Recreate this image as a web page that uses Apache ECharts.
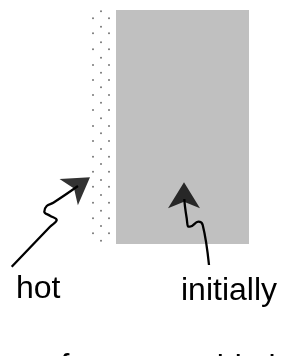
<!DOCTYPE html>
<html>
<head>
<meta charset="utf-8">
<script src="https://cdn.jsdelivr.net/npm/echarts@6/dist/echarts.min.js"></script>
<style>
html, body { margin: 0; padding: 0; background: #fff; }
#diagram { width: 282px; height: 356px; }
</style>
</head>
<body>
<div id="diagram"></div>
<script>
// the block that starts out cold: [x0, y0, x1, y1]
var coldBlock = [[116, 10, 249, 244]];

// dotted hot surface, three columns of dots
var dotMidX = [101];
var dotMidY = [11.3, 26.7, 42.3, 57.7, 72.7, 87.3, 102.7, 118.3, 133.3, 149, 164, 180, 195, 210.7, 226, 240.7];
var dotSideX = [93, 109];
var dotSideY = [18.3, 33.3, 49.3, 65, 80, 95, 110, 126, 141, 156.7, 171.7, 186.7, 202.7, 218.3, 233.3];

// squiggly pointer lines
var hotArrow = [[11.7, 266.7], [50, 226.7], [56.7, 220], [50, 215.7], [44.3, 211.7], [46.7, 206], [53.3, 202.7], [78, 186]];
var coldArrow = [[209, 265], [202.7, 225], [198.3, 221.7], [190, 226.7], [188.3, 226.7], [186.7, 218.3], [185, 206.7], [184.3, 199]];
// arrow tips: [x, y, rotation]
var arrowHeads = [[90, 177.3, -55], [184, 182.3, 0]];

var labelTexts = ['hot', 'initially', 'surface', 'cold air'];

var dots = [];
dotMidX.forEach(function (x) {
	dotMidY.forEach(function (y) { dots.push([x, y]); });
});
dotSideX.forEach(function (x) {
	dotSideY.forEach(function (y) { dots.push([x, y]); });
});

var myChart = echarts.init(document.getElementById('diagram'));
var font = '32px "Liberation Sans", Arial, sans-serif';

var option = {
	animation: false,
	grid: { left: 0, right: 0, top: 0, bottom: 0 },
	xAxis: { type: 'value', min: 0, max: 282, show: false },
	yAxis: { type: 'value', min: 0, max: 356, inverse: true, show: false },
	series: [
		{
			type: 'custom',
			z: 1,
			data: coldBlock,
			renderItem: function (params, api) {
				var p0 = api.coord([api.value(0), api.value(1)]);
				var p1 = api.coord([api.value(2), api.value(3)]);
				return {
					type: 'rect',
					shape: { x: p0[0], y: p0[1], width: p1[0] - p0[0], height: p1[1] - p0[1] },
					style: { fill: '#c0c0c0' }
				};
			}
		},
		{
			type: 'scatter',
			z: 2,
			data: dots,
			symbol: 'circle',
			symbolSize: 2,
			itemStyle: { color: '#555' },
			silent: true
		},
		{
			type: 'line',
			z: 3,
			data: hotArrow,
			smooth: 0.4,
			showSymbol: false,
			lineStyle: { color: '#000', width: 2.3 }
		},
		{
			type: 'line',
			z: 3,
			data: coldArrow,
			smooth: 0.4,
			showSymbol: false,
			lineStyle: { color: '#000', width: 2.3 }
		},
		{
			type: 'scatter',
			z: 4,
			data: arrowHeads,
			symbol: 'arrow',
			symbolSize: [24, 26],
			symbolRotate: function (value) { return value[2]; },
			itemStyle: { color: '#000' }
		}
	],
	graphic: [
		{ type: 'text', x: 16, y: 289.5, style: { text: labelTexts[0], font: font, fill: '#000', verticalAlign: 'middle' } },
		{ type: 'text', x: 181, y: 291, style: { text: labelTexts[1], font: font, fill: '#000', verticalAlign: 'middle' } },
		{ type: 'text', x: 16, y: 367, style: { text: labelTexts[2], font: font, fill: '#000', verticalAlign: 'middle' } },
		{ type: 'text', x: 183, y: 368, style: { text: labelTexts[3], font: font, fill: '#000', verticalAlign: 'middle' } }
	]
};
myChart.setOption(option);
</script>
</body>
</html>
